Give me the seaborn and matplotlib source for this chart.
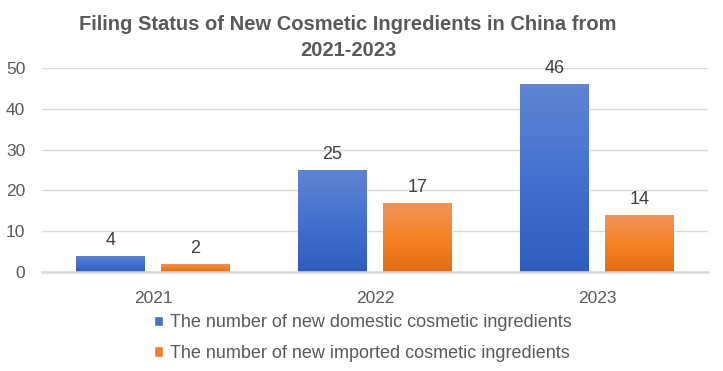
import numpy as np
import pandas as pd
import seaborn as sns
import matplotlib.pyplot as plt
import matplotlib.colors as mcolors

years = ["2021", "2022", "2023"]
domestic = [4, 25, 46]
imported = [2, 17, 14]
series_names = ["The number of new domestic cosmetic ingredients",
                "The number of new imported cosmetic ingredients"]
title_lines = ["Filing Status of New Cosmetic Ingredients in China from",
               "2021-2023"]

df = pd.DataFrame({
    "year": years * 2,
    "count": domestic + imported,
    "series": [series_names[0]] * 3 + [series_names[1]] * 3,
})

sns.set_theme(style="white")
plt.rcParams['font.family'] = ['Liberation Sans', 'DejaVu Sans']

fig = plt.figure(figsize=(7.23, 3.71), dpi=100)
ax = fig.add_axes([42 / 723, 99 / 371, 666 / 723, 204 / 371])

palette = {series_names[0]: "#4472C4", series_names[1]: "#ED7D31"}
sns.barplot(data=df, x="year", y="count", hue="series", palette=palette,
            width=0.766, gap=0.19, ax=ax, saturation=1)

# gradient fill clipped to each bar
grads = {
    "#4472C4": ["#5F84D3", "#4471CF", "#2F5DBE"],
    "#ED7D31": ["#F0945A", "#F58426", "#E36C12"],
}
for cont in ax.containers:
    for p in cont:
        fc = mcolors.to_hex(p.get_facecolor())
        cols = grads.get(fc.upper(), [fc, fc, fc])
        cmap = mcolors.LinearSegmentedColormap.from_list("g", cols[::-1])
        x0, y0 = p.get_x(), p.get_y()
        w, h = p.get_width(), p.get_height()
        img = ax.imshow(np.linspace(0, 1, 100).reshape(-1, 1), cmap=cmap,
                        extent=[x0, x0 + w, y0, y0 + h], origin="lower",
                        aspect="auto", zorder=p.get_zorder() + 0.1)
        img.set_clip_path(p)
    ax.bar_label(cont, padding=5, fontsize=13, color="#404040")

ax.set_xlim(-0.5, 2.5)
ax.set_ylim(0, 50)
ax.set_yticks([0, 10, 20, 30, 40, 50])
ax.grid(axis="y", color="#D9D9D9", linewidth=1)
ax.set_axisbelow(True)
for s in ["top", "right", "left"]:
    ax.spines[s].set_visible(False)
ax.spines["bottom"].set_color("#D9D9D9")
ax.spines["bottom"].set_linewidth(1.8)
ax.tick_params(axis="both", length=0, labelsize=12.5, colors="#595959")
ax.tick_params(axis="x", pad=14)
ax.tick_params(axis="y", pad=12)
ax.set_xlabel("")
ax.set_ylabel("")

handles, labels = ax.get_legend_handles_labels()
ax.get_legend().remove()
fig.legend(handles, labels, loc="center", bbox_to_anchor=(363 / 723, 1 - 338 / 371),
           ncol=1, frameon=False, fontsize=13, labelcolor="#595959",
           handlelength=0.5, handleheight=0.5, handletextpad=0.35,
           labelspacing=0.75)

for txt, yy in zip(title_lines, [24, 50]):
    fig.text(348 / 723, 1 - yy / 371, txt, ha="center", va="center",
             fontsize=14.5, fontweight="bold", color="#595959")

fig.savefig("out.png", dpi=100)
